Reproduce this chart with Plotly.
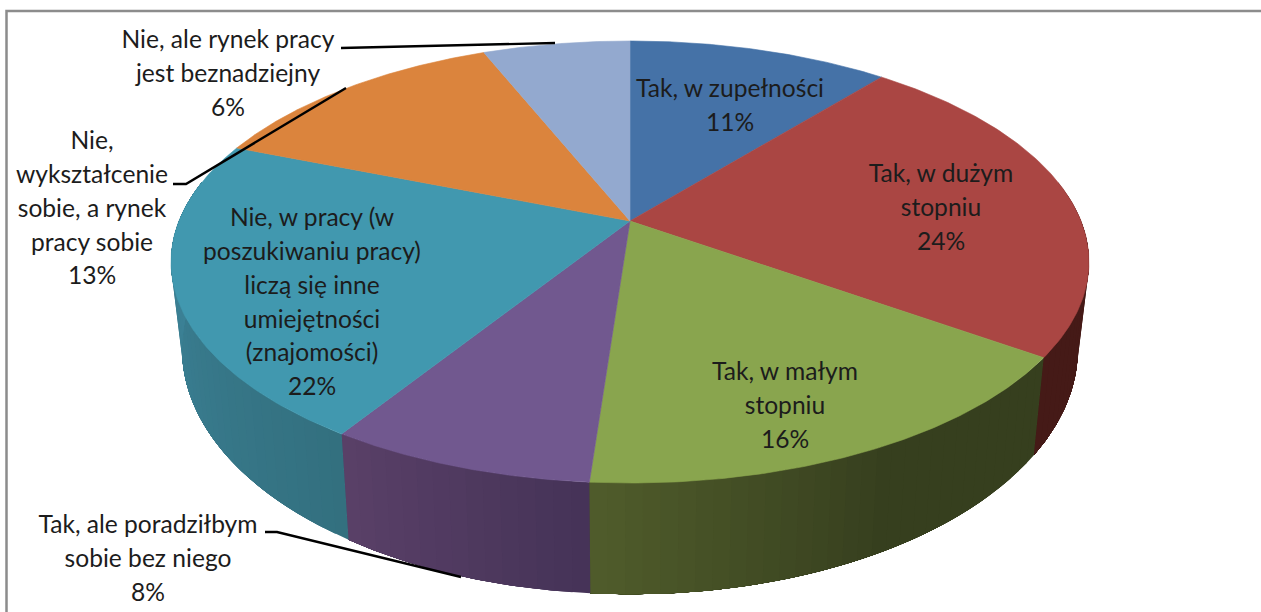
import numpy as np
import plotly.graph_objects as go

# --- data ---
categories = ["Tak, w zupełności", "Tak, w dużym stopniu", "Tak, w małym stopniu",
              "Tak, ale poradziłbym sobie bez niego",
              "Nie, w pracy (w poszukiwaniu pracy) liczą się inne umiejętności (znajomości)",
              "Nie, wykształcenie sobie, a rynek pracy sobie",
              "Nie, ale rynek pracy jest beznadziejny"]
values = [11.0, 23.7, 16.47, 7.9, 21.88, 12.85, 6.2]
top_colors = ["#4572A7", "#AA4643", "#89A54E", "#71588F", "#4198AF", "#DB843D", "#93A9CF"]
# wall colours: left-hand end of the slice on screen, right-hand end on screen
wall_left = ["#2f4d72", "#451a17", "#505c2b", "#5a4068", "#3e869c", "#9a5c2a", "#65758f"]
wall_right = ["#2f4d72", "#451a17", "#363f1e", "#453357", "#33707f", "#9a5c2a", "#65758f"]
wall_ramp = [1, 1, 0.55, 1, 1, 1, 1]
label_lines = [["Tak, w zupełności", "11%"],
               ["Tak, w dużym", "stopniu", "24%"],
               ["Tak, w małym", "stopniu", "16%"],
               ["Tak, ale poradziłbym", "sobie bez niego", "8%"],
               ["Nie, w pracy (w", "poszukiwaniu pracy)", "liczą się inne", "umiejętności", "(znajomości)", "22%"],
               ["Nie,", "wykształcenie", "sobie, a rynek", "pracy sobie", "13%"],
               ["Nie, ale rynek pracy", "jest beznadziejny", "6%"]]

# --- layout constants (pixels of the 1261x612 page) ---
W, H = 1261, 612
CX, CY = 630.0, 221.0
A, B, K = 451.0, 213.4, 0.1855     # perspective circle
WALL_SCALE = 0.976
label_xy = [(730, 91), (941, 176), (785, 374), (148, 527), (312, 220), (92, 143), (228, 42)]
LINE_STEP = 33.8
FONT = "Lato, 'Open Sans', sans-serif"
FS = 24.6


def rim(theta):
    u, v = np.sin(theta), np.cos(theta)
    d = 1 + K * v
    return CX + A * u / d, CY - B * v / d


def lower(x, y):
    return CX + WALL_SCALE * (x - CX), y + 87 + 0.11 * (y - 262)


def mix(c1, c2, t):
    a = [int(c1[i:i + 2], 16) for i in (1, 3, 5)]
    b = [int(c2[i:i + 2], 16) for i in (1, 3, 5)]
    return "rgb(%d,%d,%d)" % tuple(round(p + (q - p) * t) for p, q in zip(a, b))


fig = go.Figure()
edges = 2 * np.pi * np.cumsum([0] + values) / sum(values)


def poly(xs, ys, color, lw=0.0):
    fig.add_trace(go.Scatter(x=xs, y=ys, mode="lines", fill="toself", fillcolor=color,
                             line=dict(color=color, width=lw), hoverinfo="skip", showlegend=False))


# side wall: nested bands, each painted from its own start to the slice's left end,
# so that no seams appear between neighbouring shades
for i in range(len(values)):
    lo_v, hi_v = max(edges[i], np.pi * 0.44), min(edges[i + 1], np.pi * 1.56)
    if hi_v <= lo_v:
        continue
    n = max(2, int((hi_v - lo_v) / (2 * np.pi) * 200))
    ticks = np.linspace(lo_v, hi_v, n + 1)
    for j in range(n):
        th = np.linspace(ticks[j], hi_v, 60)
        x, y = rim(th)
        bx, by = lower(x, y)
        # angle grows towards the left on the near side of the drum
        from_left = 1 - (j + 0.5) / n
        t = min(1.0, from_left / wall_ramp[i])
        poly(np.r_[x, bx[::-1], x[0]], np.r_[y, by[::-1], y[0]], mix(wall_left[i], wall_right[i], t))

# top face
for i in range(len(values)):
    th = np.linspace(edges[i], edges[i + 1], 120)
    x, y = rim(th)
    poly(np.r_[CX, x, CX], np.r_[CY, y, CY], top_colors[i], 0.6)

# labels, one text per line so that the line pitch can be matched
tx, ty, tt = [], [], []
for (lx, ly), lines in zip(label_xy, label_lines):
    for k, s in enumerate(lines):
        tx.append(lx)
        ty.append(ly + k * LINE_STEP)
        tt.append(s)
fig.add_trace(go.Scatter(x=tx, y=ty, text=tt, mode="text", textposition="middle center",
                         textfont=dict(family=FONT, size=FS, color="#1c1c1c"),
                         hoverinfo="skip", showlegend=False))

shapes = [
    dict(type="path", path="M 341 48 L 555 43", line=dict(color="#000", width=2.4)),
    dict(type="path", path="M 173 184 L 186 184 L 346 88", line=dict(color="#000", width=2.4)),
    dict(type="path", path="M 265 532 L 277 532 L 461 577", line=dict(color="#000", width=2.4)),
    dict(type="path", path="M 6.5 612 L 6.5 11 L 1261 11", line=dict(color="#8c8c8c", width=2.5)),
]

fig.update_layout(width=W, height=H, margin=dict(l=0, r=0, t=0, b=0),
                  paper_bgcolor="white", plot_bgcolor="white", showlegend=False, shapes=shapes,
                  xaxis=dict(range=[0, W], visible=False, fixedrange=True),
                  yaxis=dict(range=[H, 0], visible=False, fixedrange=True))
fig.write_html("out.html", config=dict(displayModeBar=False),
               post_script="document.body.style.margin='0';document.body.style.overflow='hidden';")
